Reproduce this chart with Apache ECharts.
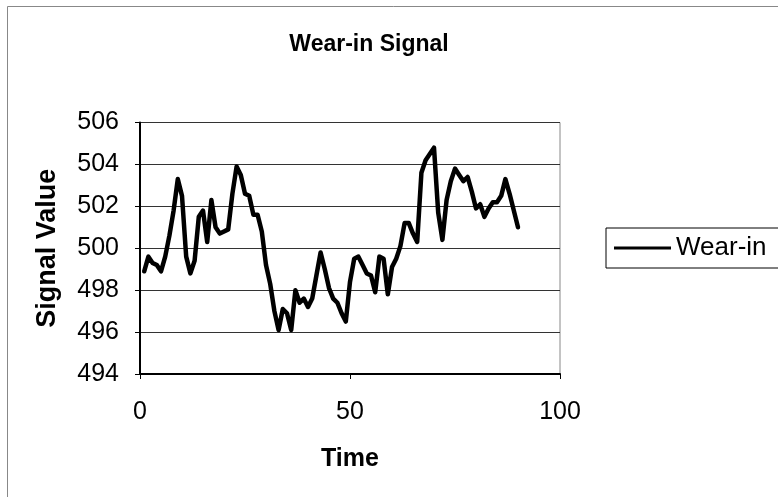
<!DOCTYPE html>
<html>
<head>
<meta charset="utf-8">
<script src="https://cdn.jsdelivr.net/npm/echarts@6/dist/echarts.min.js"></script>
<style>
html,body{margin:0;padding:0;background:#fff;}
#chart{width:778px;height:497px;}
</style>
</head>
<body>
<div id="chart"></div>
<script>
var titleText = "Wear-in Signal";
var seriesName = "Wear-in";
var xName = "Time";
var yName = "Signal Value";
var time = [1,2,3,4,5,6,7,8,9,10,11,12,13,14,15,16,17,18,19,20,21,22,23,24,25,26,27,28,29,30,
31,32,33,34,35,36,37,38,39,40,41,42,43,44,45,46,47,48,49,50,51,52,53,54,55,56,57,58,59,60,
61,62,63,64,65,66,67,68,69,70,71,72,73,74,75,76,77,78,79,80,81,82,83,84,85,86,87,88,89,90];
var signal = [498.9,499.6,499.3,499.2,498.9,499.6,500.6,501.8,503.3,502.5,
499.6,498.8,499.4,501.5,501.8,500.3,502.3,501.0,500.7,500.8,
500.9,502.6,503.9,503.5,502.6,502.5,501.6,501.6,500.8,499.2,
498.3,497.0,496.1,497.1,496.9,496.1,498.0,497.4,497.6,497.2,
497.6,498.7,499.8,499.0,498.1,497.6,497.4,496.9,496.5,498.4,
499.5,499.6,499.2,498.8,498.7,497.9,499.6,499.5,497.8,499.1,
499.5,500.1,501.2,501.2,500.7,500.3,503.6,504.2,504.5,504.8,
501.7,500.4,502.3,503.2,503.8,503.5,503.2,503.4,502.7,501.9,
502.1,501.5,501.9,502.2,502.2,502.5,503.3,502.6,501.8,501.0];

var pts = [];
for (var i = 0; i < time.length; i++) pts.push([time[i], signal[i]]);

var chart = echarts.init(document.getElementById('chart'));
chart.setOption({
  animation: false,
  backgroundColor: '#fff',
  graphic: [{
    type: 'rect', shape: {x: 7.5, y: 6.5, width: 1000, height: 1000},
    style: {fill: 'none', stroke: '#888', lineWidth: 1}, silent: true
  }],
  title: {
    text: titleText, left: 364, top: 28, textAlign: 'center',
    textStyle: {fontFamily: 'Liberation Sans', fontWeight: 'bold', fontSize: 23, color: '#000'}
  },
  legend: {
    left: 606, top: 228,
    padding: [7, 20, 7, 8],
    borderColor: '#000', borderWidth: 1,
    icon: 'rect', itemWidth: 57, itemHeight: 3, itemGap: 0,
    textStyle: {fontFamily: 'Liberation Sans', fontSize: 26, color: '#000', padding: [0,0,0,0]},
    data: [seriesName]
  },
  grid: {
    left: 140, right: 218, top: 122.5, bottom: 123,
    show: true, borderColor: '#888', borderWidth: 1, backgroundColor: 'transparent'
  },
  xAxis: {
    type: 'value', min: 0, max: 100, interval: 50,
    name: xName, nameLocation: 'middle', nameGap: 73,
    nameTextStyle: {fontFamily: 'Liberation Sans', fontWeight: 'bold', fontSize: 25, color: '#000'},
    axisLine: {show: true, lineStyle: {color: '#000', width: 2}},
    axisTick: {show: true, length: 5, lineStyle: {color: '#000'}},
    axisLabel: {fontFamily: 'Liberation Sans', fontSize: 25, color: '#000', margin: 26},
    splitLine: {show: false}
  },
  yAxis: {
    type: 'value', min: 494, max: 506, interval: 2,
    name: yName, nameLocation: 'middle', nameGap: 79, nameRotate: 90,
    nameTextStyle: {fontFamily: 'Liberation Sans', fontWeight: 'bold', fontSize: 27, color: '#000'},
    axisLine: {show: true, lineStyle: {color: '#000', width: 2}},
    axisTick: {show: true, length: 5, lineStyle: {color: '#000'}},
    axisLabel: {fontFamily: 'Liberation Sans', fontSize: 25, color: '#000', margin: 21},
    splitLine: {show: true, lineStyle: {color: '#333', width: 1}}
  },
  series: [{
    name: seriesName, type: 'line', data: pts,
    symbol: 'none', smooth: false,
    lineStyle: {color: '#000', width: 4.5, join: 'round', cap: 'round'},
    itemStyle: {color: '#000'}
  }]
});
</script>
</body>
</html>
